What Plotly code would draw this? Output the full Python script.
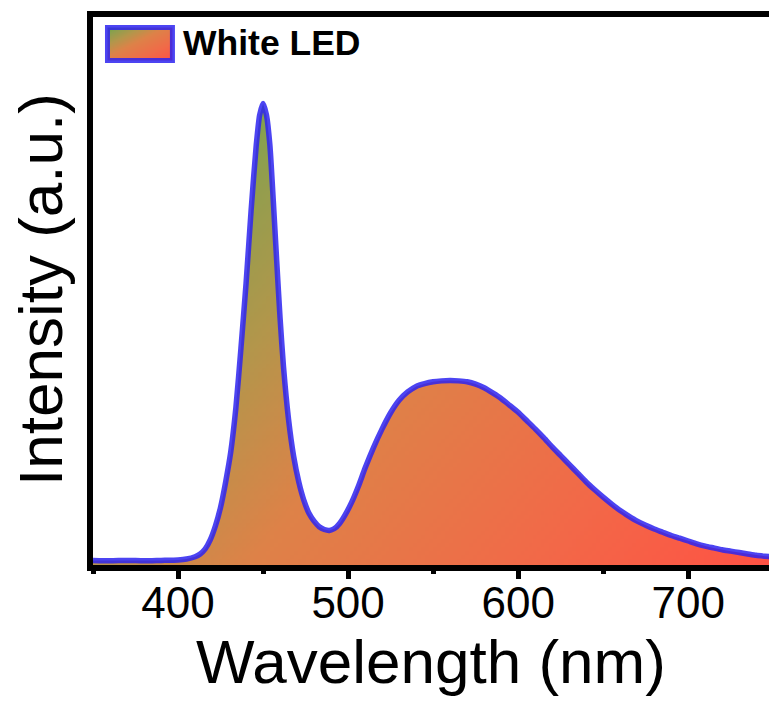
import base64, struct, zlib
import plotly.graph_objects as go

# ---------------- data ----------------
wavelength = [350, 360, 370, 380, 390, 400, 405, 410, 413, 416, 419, 422, 425, 428, 431, 434, 437,
              440, 443, 446, 448, 450, 452, 454, 456, 458, 460, 462, 465, 468, 471, 474, 477, 480,
              483, 486, 489, 492, 495, 498, 502, 506, 510, 515, 520, 525, 530, 535, 540, 545, 550,
              555, 560, 565, 570, 575, 580, 585, 590, 595, 600, 605, 610, 615, 620, 625, 630, 635,
              640, 645, 650, 655, 660, 665, 670, 675, 680, 685, 690, 695, 700, 705, 710, 715, 720,
              725, 730, 735, 740, 745, 748]
intensity = [0.010, 0.009, 0.010, 0.009, 0.010, 0.011, 0.013, 0.018, 0.024, 0.035, 0.055, 0.085,
             0.125, 0.180, 0.245, 0.340, 0.470, 0.610, 0.770, 0.910, 0.975, 1.000, 0.975, 0.910,
             0.790, 0.660, 0.535, 0.430, 0.315, 0.235, 0.180, 0.140, 0.112, 0.095, 0.083, 0.077,
             0.075, 0.079, 0.090, 0.107, 0.135, 0.170, 0.210, 0.255, 0.295, 0.330, 0.357, 0.375,
             0.387, 0.393, 0.397, 0.399, 0.400, 0.399, 0.397, 0.392, 0.384, 0.373, 0.361, 0.346,
             0.331, 0.313, 0.295, 0.276, 0.256, 0.237, 0.218, 0.199, 0.180, 0.163, 0.147, 0.132,
             0.118, 0.106, 0.095, 0.086, 0.078, 0.071, 0.064, 0.058, 0.052, 0.046, 0.041, 0.037,
             0.033, 0.030, 0.027, 0.024, 0.021, 0.019, 0.018]
series_name = "White LED"
x_ticks = [400, 500, 600, 700]
x_minor = [350, 450, 550, 650, 750]
x_range = [350, 747.5]
y_range = [0, 1.194]

# ---------------- styling ----------------
W, H = 769, 703
ML, MR, MT, MB = 92.5, 0, 13.5, 138
PW, PH = W - ML - MR, H - MT - MB
FONT = "Liberation Sans, Arial, sans-serif"
LINE_BLUE = "rgba(45,35,240,0.85)"
STOPS = [(0.0, (110, 165, 65)), (0.10, (138, 160, 78)), (0.27, (180, 150, 75)),
         (0.45, (222, 130, 72)), (0.75, (242, 105, 72)), (1.0, (255, 82, 68))]


def grad_color(t):
    t = min(max(t, 0.0), 1.0)
    for (t0, c0), (t1, c1) in zip(STOPS[:-1], STOPS[1:]):
        if t <= t1:
            f = (t - t0) / (t1 - t0) if t1 > t0 else 0
            return [int(round(a + (b - a) * f)) for a, b in zip(c0, c1)]
    return list(STOPS[-1][1])


def make_png(w, h, colorfn):
    raw = bytearray()
    for j in range(h):
        raw.append(0)
        for i in range(w):
            raw.extend(colorfn(i, j))

    def chunk(tag, data):
        c = struct.pack(">I", len(data)) + tag + data
        return c + struct.pack(">I", zlib.crc32(tag + data) & 0xffffffff)

    png = b"\x89PNG\r\n\x1a\n" + chunk(b"IHDR", struct.pack(">IIBBBBB", w, h, 8, 2, 0, 0, 0))
    png += chunk(b"IDAT", zlib.compress(bytes(raw), 9)) + chunk(b"IEND", b"")
    return "data:image/png;base64," + base64.b64encode(png).decode()


# plot-area gradient (diagonal across the filled region, in screen pixels)
IW, IH = 170, 138
gx0, gy0, gx1, gy1 = 200, 100, 769, 565
dx, dy = gx1 - gx0, gy1 - gy0
dd = dx * dx + dy * dy


def plot_col(i, j):
    px = ML + (i + 0.5) / IW * PW
    py = MT + (j + 0.5) / IH * PH
    return grad_color(((px - gx0) * dx + (py - gy0) * dy) / dd)


plot_img = make_png(IW, IH, plot_col)
sw_img = make_png(40, 20, lambda i, j: grad_color(0.5 * (i + 0.5) / 40 + 0.5 * (j + 0.5) / 20))

fig = go.Figure()

# white mask above the curve (gradient image shows only below the curve)
mask_x = [340] + wavelength + [760, 760, 340]
mask_y = [intensity[0]] + intensity + [intensity[-1], 1.5, 1.5]
fig.add_trace(go.Scatter(x=mask_x, y=mask_y, mode="lines", fill="toself",
                         fillcolor="white", line=dict(width=0), hoverinfo="skip",
                         showlegend=False))
fig.add_trace(go.Scatter(x=wavelength, y=intensity, mode="lines", name=series_name,
                         line=dict(color=LINE_BLUE, width=5.5, shape="spline", smoothing=0.6),
                         showlegend=False))


def px2paper(px, py):
    return (px - ML) / PW, (H - MB - py) / PH


images = [dict(source=plot_img, xref="paper", yref="paper", x=0, y=1, sizex=1, sizey=1,
               xanchor="left", yanchor="top", sizing="stretch", layer="below")]
# legend swatch
sx0, sy0 = px2paper(107, 27)
sx1, sy1 = px2paper(172, 60)
images.append(dict(source=sw_img, xref="paper", yref="paper", x=sx0, y=sy0,
                   sizex=sx1 - sx0, sizey=sy0 - sy1, xanchor="left", yanchor="top",
                   sizing="stretch", layer="above"))
shapes = [
    dict(type="line", xref="paper", yref="paper", x0=-6 / PW, x1=1.01, y0=1, y1=1,
         line=dict(color="black", width=6)),
    dict(type="rect", xref="paper", yref="paper", x0=sx0, y0=sy1, x1=sx1, y1=sy0,
         line=dict(color=LINE_BLUE, width=5)),
]
lx, ly = px2paper(181, 43)
annotations = [dict(text="<b>" + series_name + "</b>", xref="paper", yref="paper", x=lx, y=ly,
                    xanchor="left", yanchor="middle", showarrow=False,
                    font=dict(family=FONT, size=35.5, color="black"))]

fig.update_layout(
    width=W, height=H, margin=dict(l=ML, r=MR, t=MT, b=MB, pad=0),
    paper_bgcolor="white", plot_bgcolor="rgba(0,0,0,0)",
    showlegend=False, images=images, shapes=shapes, annotations=annotations,
    font=dict(family=FONT, color="black"),
)
fig.update_xaxes(range=x_range, showgrid=False, zeroline=False, showline=True, linewidth=6,
                 linecolor="black", ticks="outside", ticklen=8, tickwidth=5, tickcolor="black",
                 tickvals=x_ticks, ticktext=[str(v) for v in x_ticks],
                 tickfont=dict(family=FONT, size=44), ticklabelstandoff=-14,
                 minor=dict(tickvals=x_minor, ticks="outside", ticklen=3, tickwidth=5,
                            tickcolor="black"),
                 title=dict(text="Wavelength (nm)", font=dict(family=FONT, size=62), standoff=0))
fig.update_yaxes(range=y_range, showgrid=False, zeroline=False, showline=True, linewidth=6,
                 linecolor="black", ticks="", showticklabels=False,
                 title=dict(text="Intensity (a.u.)", font=dict(family=FONT, size=62), standoff=6))

fig.write_html("out.html")
